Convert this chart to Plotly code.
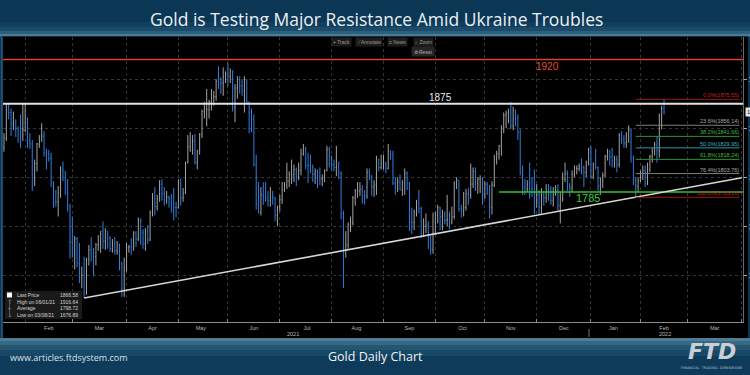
import pandas as pd
import plotly.graph_objects as go

# ---------------- data ----------------
title_text = "Gold is Testing Major Resistance Amid Ukraine Troubles"
footer_left = "www.articles.ftdsystem.com"
footer_center = "Gold Daily Chart"

start_date = "2021-01-19"
end_date = "2022-02-15"
first_open = 1830

months = ["2021-01", "2021-02", "2021-03", "2021-04", "2021-05", "2021-06", "2021-07",
          "2021-08", "2021-09", "2021-10", "2021-11", "2021-12", "2022-01", "2022-02"]

close_by_month = [
    [1840, 1871, 1866, 1855, 1856, 1850, 1844, 1843, 1848],
    [1860, 1837, 1834, 1794, 1814, 1834, 1838, 1842, 1825, 1824, 1819, 1794, 1775, 1775, 1784, 1808, 1806, 1797, 1770, 1734],
    [1723, 1737, 1712, 1697, 1700, 1683, 1716, 1726, 1722, 1719, 1731, 1731, 1745, 1735, 1745, 1738, 1727, 1734, 1725, 1732, 1712, 1685, 1708],
    [1728, 1729, 1728, 1743, 1737, 1756, 1744, 1732, 1746, 1736, 1764, 1777, 1770, 1778, 1793, 1783, 1777, 1780, 1778, 1773, 1769, 1769],
    [1793, 1779, 1784, 1815, 1831, 1836, 1837, 1815, 1827, 1844, 1867, 1869, 1869, 1877, 1881, 1882, 1898, 1896, 1896, 1903, 1906],
    [1903, 1908, 1871, 1891, 1899, 1893, 1888, 1898, 1877, 1866, 1859, 1813, 1773, 1764, 1782, 1779, 1779, 1776, 1781, 1779, 1761, 1770],
    [1777, 1787, 1792, 1796, 1803, 1803, 1808, 1806, 1807, 1824, 1829, 1812, 1812, 1810, 1803, 1806, 1801, 1798, 1799, 1807, 1828, 1814],
    [1813, 1810, 1812, 1804, 1763, 1729, 1731, 1752, 1753, 1779, 1786, 1786, 1788, 1781, 1781, 1805, 1802, 1790, 1792, 1818, 1810, 1814],
    [1814, 1809, 1827, 1823, 1794, 1789, 1795, 1787, 1794, 1804, 1794, 1754, 1754, 1764, 1774, 1768, 1743, 1750, 1751, 1734, 1726, 1743],
    [1761, 1769, 1760, 1762, 1756, 1757, 1754, 1760, 1793, 1797, 1768, 1765, 1769, 1783, 1782, 1793, 1806, 1793, 1798, 1799, 1783],
    [1793, 1788, 1769, 1792, 1818, 1824, 1832, 1849, 1863, 1865, 1866, 1852, 1868, 1860, 1846, 1805, 1790, 1788, 1792, 1788, 1785, 1774],
    [1782, 1769, 1783, 1779, 1785, 1783, 1776, 1783, 1787, 1771, 1778, 1798, 1804, 1791, 1789, 1803, 1809, 1809, 1811, 1810, 1805, 1815, 1829],
    [1801, 1814, 1810, 1791, 1797, 1802, 1821, 1826, 1821, 1817, 1818, 1813, 1843, 1839, 1835, 1843, 1848, 1820, 1797, 1791, 1797],
    [1801, 1807, 1805, 1808, 1821, 1826, 1833, 1827, 1859, 1870, 1866.58],
]

high_by_month = [
    [1845, 1875, 1875, 1870, 1867, 1859, 1852, 1864, 1875],
    [1875, 1861, 1845, 1838, 1818, 1835, 1843, 1855, 1847, 1829, 1828, 1825, 1796, 1787, 1791, 1811, 1816, 1806, 1798, 1773],
    [1760, 1740, 1739, 1733, 1709, 1719, 1718, 1731, 1739, 1728, 1733, 1741, 1745, 1755, 1748, 1745, 1740, 1737, 1739, 1735, 1732, 1714, 1718],
    [1733, 1731, 1738, 1745, 1745, 1759, 1758, 1747, 1748, 1751, 1766, 1784, 1790, 1782, 1797, 1798, 1790, 1786, 1781, 1783, 1789, 1775],
    [1798, 1799, 1789, 1816, 1843, 1846, 1843, 1844, 1828, 1845, 1869, 1877, 1890, 1879, 1890, 1888, 1900, 1913, 1902, 1912, 1908],
    [1916.64, 1911, 1909, 1895, 1903, 1903, 1900, 1903, 1900, 1877, 1870, 1864, 1823, 1795, 1790, 1795, 1795, 1786, 1790, 1786, 1780, 1771],
    [1782, 1795, 1795, 1815, 1806, 1818, 1813, 1810, 1815, 1829, 1834, 1831, 1825, 1823, 1813, 1809, 1808, 1810, 1803, 1808, 1832, 1831],
    [1822, 1818, 1832, 1816, 1806, 1766, 1745, 1754, 1760, 1781, 1788, 1795, 1795, 1792, 1787, 1809, 1809, 1802, 1797, 1822, 1819, 1823],
    [1823, 1816, 1834, 1827, 1827, 1800, 1800, 1803, 1797, 1809, 1806, 1795, 1769, 1767, 1777, 1787, 1770, 1758, 1763, 1755, 1740, 1764],
    [1765, 1772, 1770, 1767, 1765, 1782, 1765, 1770, 1796, 1800, 1797, 1772, 1785, 1788, 1789, 1814, 1810, 1810, 1800, 1802, 1800],
    [1796, 1795, 1792, 1796, 1823, 1827, 1833, 1853, 1866, 1868, 1870, 1877, 1872, 1869, 1864, 1849, 1812, 1798, 1797, 1815, 1800, 1808],
    [1793, 1787, 1789, 1786, 1793, 1793, 1791, 1790, 1792, 1793, 1785, 1805, 1815, 1807, 1794, 1807, 1812, 1812, 1814, 1819, 1812, 1817, 1830],
    [1832, 1815, 1829, 1811, 1800, 1805, 1823, 1829, 1828, 1830, 1822, 1822, 1845, 1847, 1843, 1846, 1853, 1850, 1822, 1800, 1800],
    [1807, 1812, 1812, 1815, 1823, 1830, 1836, 1842, 1865, 1873, 1879],
]

low_by_month = [
    [1826, 1837, 1859, 1842, 1848, 1841, 1835, 1830, 1837],
    [1846, 1830, 1829, 1786, 1791, 1806, 1830, 1836, 1821, 1808, 1816, 1790, 1769, 1770, 1760, 1779, 1796, 1782, 1765, 1717],
    [1718, 1706, 1708, 1692, 1687, 1676.89, 1680, 1710, 1714, 1699, 1710, 1725, 1723, 1727, 1726, 1727, 1724, 1723, 1721, 1721, 1705, 1678, 1678],
    [1704, 1723, 1721, 1725, 1729, 1735, 1731, 1727, 1725, 1732, 1735, 1760, 1761, 1766, 1775, 1776, 1771, 1773, 1769, 1764, 1756, 1759],
    [1768, 1771, 1775, 1783, 1814, 1826, 1823, 1813, 1808, 1823, 1840, 1860, 1852, 1860, 1868, 1873, 1878, 1890, 1885, 1883, 1896],
    [1893, 1896, 1867, 1856, 1880, 1885, 1883, 1866, 1875, 1845, 1846, 1811, 1767, 1763, 1761, 1772, 1775, 1770, 1770, 1772, 1755, 1750],
    [1765, 1773, 1785, 1788, 1790, 1793, 1795, 1791, 1797, 1802, 1822, 1808, 1794, 1804, 1795, 1793, 1789, 1792, 1791, 1795, 1806, 1810],
    [1807, 1806, 1801, 1798, 1757, 1687, 1718, 1727, 1744, 1751, 1771, 1779, 1781, 1773, 1772, 1778, 1797, 1781, 1780, 1782, 1806, 1808],
    [1808, 1804, 1808, 1818, 1792, 1782, 1785, 1787, 1781, 1782, 1787, 1745, 1742, 1746, 1760, 1763, 1738, 1739, 1743, 1727, 1721, 1722],
    [1741, 1753, 1746, 1746, 1752, 1750, 1747, 1752, 1757, 1788, 1765, 1759, 1760, 1766, 1772, 1778, 1789, 1786, 1783, 1784, 1772],
    [1778, 1782, 1758, 1762, 1790, 1813, 1818, 1822, 1845, 1850, 1855, 1849, 1848, 1852, 1838, 1802, 1782, 1782, 1785, 1778, 1780, 1762],
    [1769, 1762, 1762, 1771, 1774, 1776, 1772, 1770, 1781, 1766, 1753, 1775, 1795, 1786, 1780, 1785, 1800, 1803, 1806, 1803, 1790, 1800, 1812],
    [1798, 1798, 1808, 1786, 1782, 1789, 1800, 1817, 1812, 1810, 1810, 1805, 1810, 1834, 1830, 1830, 1835, 1815, 1792, 1780, 1785],
    [1795, 1797, 1790, 1792, 1805, 1815, 1822, 1815, 1820, 1849, 1864],
]

# horizontal levels drawn on the chart
level_values = [1920, 1875, 1785]
level_labels = ["1920", "1875", "1785"]
level_starts = [None, None, "2021-11-09"]

# rising trendline
trend_dates = ["2021-03-08", "2022-04-01"]
trend_prices = [1676.89, 1799.5]

# fibonacci retracement
fib_labels = ["0.0%(1875.55)", "23.6%(1856.14)", "38.2%(1841.66)", "50.0%(1829.95)",
              "61.8%(1818.24)", "76.4%(1803.76)", "100.0%(1785.20)"]
fib_drawn = [1879.4, 1853.0, 1841.66, 1829.95, 1818.24, 1803.76, 1779.5]
fib_start = "2022-01-28"

# statistics box
stat_labels = ["Last Price", "High on 06/01/21", "Average", "Low on 03/08/21"]
stat_values = ["1866.58", "1916.64", "1798.72", "1676.89"]

year_labels = ["2021", "2022"]
y_ticks = [1700, 1750, 1800, 1850, 1900]
toolbar_items = ["+ Track", "⁄ Annotate", "≡ News", "⌕ Zoom"]

# ---------------- build series ----------------
dates, opens, highs, lows, closes = [], [], [], [], []
prev = first_open
for m, cs, hs, ls in zip(months, close_by_month, high_by_month, low_by_month):
    ms = pd.Timestamp(m + "-01")
    me = ms + pd.offsets.MonthEnd(0)
    s = max(ms, pd.Timestamp(start_date))
    e = min(me, pd.Timestamp(end_date))
    d = pd.bdate_range(s, e)
    n = min(len(d), len(cs), len(hs), len(ls))
    for i in range(n):
        o = min(max(prev, ls[i]), hs[i])
        dates.append(d[i])
        opens.append(o)
        highs.append(hs[i])
        lows.append(ls[i])
        closes.append(cs[i])
        prev = cs[i]

# ---------------- layout geometry (pixels) ----------------
W, H = 750, 375
ML, MR, MT, MB = 3, 7, 37, 53
PW = W - ML - MR
PH = H - MT - MB


def px(x):
    return (x - ML) / PW


def py(y):
    return (H - MB - y) / PH


def ann(text, x, y, xref="paper", yref="paper", xanchor="center", yanchor="middle", **kw):
    d = dict(text=text, x=x, y=y, xref=xref, yref=yref, xanchor=xanchor, yanchor=yanchor, showarrow=False)
    d.update(kw)
    return d


X_RANGE = ["2021-01-18 14:00", "2022-04-01 12:00"]
Y_RANGE = [1652.4, 1943.0]
FONT = "Liberation Sans Narrow, Liberation Sans, Arial, sans-serif"
SANS = "Open Sans, Lato, sans-serif"

fig = go.Figure()
fig.add_trace(go.Ohlc(
    x=dates, open=opens, high=highs, low=lows, close=closes,
    increasing=dict(line=dict(color="#a3a3a3", width=1)),
    decreasing=dict(line=dict(color="#2f7fe0", width=1)),
    tickwidth=0.25, hoverinfo="skip", showlegend=False,
))

shapes = []
# frame background bands
bands_top = [(0, 22, "#0b3654"), (22, 27, "#113e5c"), (27, 31, "#1b4b69"),
             (31, 34, "#2c5f7d"), (34, 36.5, "#4a7c96")]
for y0, y1, c in bands_top:
    shapes.append(dict(type="rect", xref="paper", yref="paper", x0=px(0), x1=px(W),
                       y0=py(y1), y1=py(y0), fillcolor=c, line_width=0, layer="below"))
bands_bot = [(338, 341, "#4c7d97"), (341, 345, "#376984"), (345, 350, "#245672"),
             (350, 356, "#174866"), (356, 375, "#0d3b59")]
for y0, y1, c in bands_bot:
    shapes.append(dict(type="rect", xref="paper", yref="paper", x0=px(0), x1=px(W),
                       y0=py(y1), y1=py(y0), fillcolor=c, line_width=0, layer="below"))
# black chart panel
shapes.append(dict(type="rect", xref="paper", yref="paper", x0=px(2), x1=px(748),
                   y0=py(338), y1=py(36.5), fillcolor="#000000", line_width=0, layer="below"))
shapes.append(dict(type="line", xref="paper", yref="paper", x0=px(2), x1=px(2),
                   y0=py(338), y1=py(37), line=dict(color="#2b5e86", width=1.5), layer="below"))
# year divider tick
shapes.append(dict(type="line", xref="paper", yref="paper", x0=px(589), x1=px(589),
                   y0=py(337), y1=py(329), line=dict(color="#777", width=1)))

# levels
level_colors = ["#d8452a", "#e2e2e2", "#2fc22f"]
level_widths = [1.5, 2, 1.5]
for v, st, c, w in zip(level_values, level_starts, level_colors, level_widths):
    if st is None:
        shapes.append(dict(type="line", xref="paper", yref="y", x0=0, x1=1, y0=v, y1=v,
                           line=dict(color=c, width=w)))
    else:
        shapes.append(dict(type="line", xref="x", yref="y", x0=st, x1=X_RANGE[1], y0=v, y1=v,
                           line=dict(color=c, width=w)))

# trendline
shapes.append(dict(type="line", xref="x", yref="y", x0=trend_dates[0], x1=trend_dates[1],
                   y0=trend_prices[0], y1=trend_prices[1], line=dict(color="#d6d6d6", width=1.6)))

# fib lines
fib_line_colors = ["#9b1515", "#7d7d7d", "#2b962b", "#2a96a4", "#2b962b", "#7d7d7d", "#9b1515"]
fib_text_colors = ["#c82222", "#a8a8a8", "#3cbf3c", "#3cb4c6", "#3cbf3c", "#a8a8a8", "#c82222"]
for v, c in zip(fib_drawn, fib_line_colors):
    shapes.append(dict(type="line", xref="x", yref="y", x0=fib_start, x1="2022-03-31", y0=v, y1=v,
                       line=dict(color=c, width=1)))

# statistics box
shapes.append(dict(type="rect", xref="paper", yref="paper", x0=px(5), x1=px(82),
                   y0=py(319), y1=py(291), fillcolor="rgba(28,28,28,0.92)", line_width=0))
shapes.append(dict(type="rect", xref="paper", yref="paper", x0=px(7), x1=px(12),
                   y0=py(297.5), y1=py(292.5), fillcolor="#ffffff", line_width=0))
shapes.append(dict(type="line", xref="paper", yref="paper", x0=px(9.5), x1=px(9.5),
                   y0=py(317), y1=py(299), line=dict(color="#666", width=0.8)))

annotations = []
# title and footer
annotations.append(ann(title_text, px(377), py(19), font=dict(family=SANS, size=17.5, color="#eaf0f4")))
annotations.append(ann(footer_left, px(8), py(357), xanchor="left",
                       font=dict(family=SANS, size=9, color="#dfe6ea")))
annotations.append(ann(footer_center, px(375), py(356), font=dict(family=SANS, size=12.5, color="#f0f4f6")))
annotations.append(ann("<b><i>FTD</i></b>", px(712), py(352),
                       font=dict(family="DejaVu Sans, sans-serif", size=22, color="#c9cfd4")))
annotations.append(ann("FINANCIAL  TRADING  DIMENSIONS", px(712), py(368),
                       font=dict(family="DejaVu Sans, sans-serif", size=3.5, color="#b8c2ca")))

# level labels
label_pos = [(547, 66), (441, 97), (588, 198)]
label_sizes = [10, 10, 11]
label_colors = ["#e0522f", "#ececec", "#3cc63c"]
for t, (lx, ly), s, c in zip(level_labels, label_pos, label_sizes, label_colors):
    annotations.append(ann(t, px(lx), py(ly), font=dict(family=FONT, size=s, color=c)))

# fib labels
for t, v, c in zip(fib_labels, fib_drawn, fib_text_colors):
    annotations.append(ann(t, px(741), v, yref="y", xanchor="right", yanchor="bottom", yshift=-1,
                           font=dict(family=FONT, size=5.5, color=c)))

# statistics text
row_y = [295, 301.5, 308, 314.5]
row_sym = ["", "⊤", "+", "⊥"]
for t, val, yy, sym in zip(stat_labels, stat_values, row_y, row_sym):
    annotations.append(ann(t, px(15), py(yy), xanchor="left", font=dict(family=FONT, size=5, color="#d4d4d4")))
    annotations.append(ann(val, px(80), py(yy), xanchor="right", font=dict(family=FONT, size=5, color="#d4d4d4")))
    if sym:
        annotations.append(ann(sym, px(9.5), py(yy), font=dict(family=FONT, size=5, color="#999")))

# year labels
for t, xx in zip(year_labels, [293, 665]):
    annotations.append(ann(t, px(xx), py(333.5), font=dict(family=FONT, size=5.5, color="#b8b8b8")))

# toolbar
for t, xx in zip(toolbar_items, [341, 369, 397, 423]):
    annotations.append(ann(t, px(xx), py(42), bgcolor="#1c1c1c", borderpad=1,
                           font=dict(family=FONT, size=5, color="#9a9a9a")))
annotations.append(ann("⚙ Reset", px(423), py(51), bgcolor="#262626", borderpad=1.5,
                       font=dict(family=FONT, size=5, color="#b0b0b0")))

# last price tag at the right edge
annotations.append(ann("1866.58", px(745), closes[-1], yref="y", xanchor="left", bgcolor="#e6e6e6",
                       borderpad=1, font=dict(family=FONT, size=6, color="#111")))

fig.update_layout(
    template="none",
    width=W, height=H,
    margin=dict(l=ML, r=MR, t=MT, b=MB, autoexpand=False),
    paper_bgcolor="#0b3654",
    plot_bgcolor="#000000",
    showlegend=False,
    shapes=shapes,
    annotations=annotations,
    hovermode=False,
    xaxis=dict(
        type="date", range=X_RANGE, rangeslider=dict(visible=False),
        rangebreaks=[dict(bounds=["sat", "mon"])],
        dtick="M1", tick0="2021-02-01", tickformat="%b", ticklabelmode="period",
        ticks="inside", ticklen=3, tickcolor="#888", ticklabelstandoff=0,
        showline=True, linecolor="#8c8c8c", linewidth=1,
        showgrid=True, gridcolor="#343434", griddash="dot", gridwidth=1,
        zeroline=False, automargin=False,
        tickfont=dict(family=FONT, size=5.5, color="#b8b8b8"),
    ),
    yaxis=dict(
        side="right", range=Y_RANGE, tickvals=y_ticks,
        ticks="outside", ticklen=3, tickcolor="#aaa",
        showline=True, linecolor="#6a6a6a", linewidth=1,
        showgrid=True, gridcolor="#343434", griddash="dot", gridwidth=1,
        zeroline=False, automargin=False,
        tickfont=dict(family=FONT, size=7, color="#dddddd"),
    ),
)

fig.write_html("out.html", config={"displayModeBar": False},
               post_script="document.body.style.margin='0px';document.body.style.overflow='hidden';")
